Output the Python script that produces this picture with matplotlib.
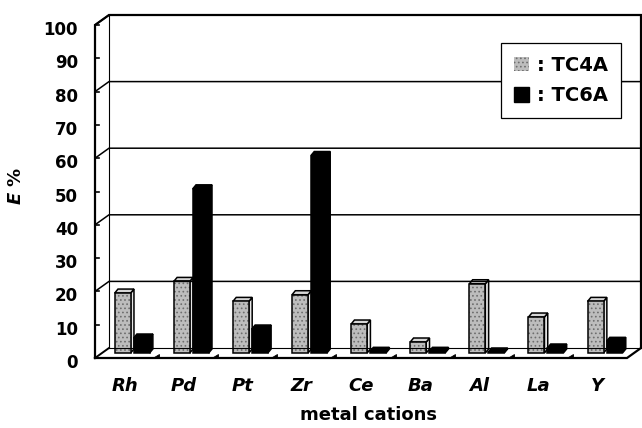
import numpy as np
import matplotlib.pyplot as plt
from matplotlib.patches import Polygon, Rectangle, Patch
from matplotlib.transforms import offset_copy

plt.rcParams['font.family'] = 'DejaVu Sans'
plt.rcParams['mathtext.fontset'] = 'dejavusans'
plt.rcParams['hatch.linewidth'] = 0.7

metals = ['Rh', 'Pd', 'Pt', 'Zr', 'Ce', 'Ba', 'Al', 'La', 'Y']
tc4a = [18, 21.5, 15.5, 17.5, 8.7, 3.3, 20.8, 10.8, 15.5]
tc6a = [4.5, 49.3, 7.2, 59.3, 0.5, 0.5, 0.3, 1.5, 3.5]
series = ['TC4A', 'TC6A']
yticks = list(range(0, 101, 10))
grid_vals = [20, 40, 60, 80, 100]

W, H = 642, 428
fig = plt.figure(figsize=(W / 100, H / 100), dpi=100)
ax = fig.add_axes([95 / W, 1 - 358 / H, 532 / W, 333 / H])
n = len(metals)
ax.set_xlim(0, n)
ax.set_ylim(0, 100)
ax.set_facecolor('none')
for s in ax.spines.values():
    s.set_visible(False)

# pixel -> data units
px_x = n / 532
px_y = 100 / 333
DX, DY = 14 * px_x, 10 * px_y      # wall depth
BX, BY = 7 * px_x, 5 * px_y        # bar row position
dx, dy = 3.3 * px_x, 4 * px_y      # bar depth
bw = 0.27
offs = [0.215, 0.535]
gray, dots = '#bdbdbd', '#6e6e6e'

# walls and floor
ax.add_patch(Polygon([(0, 0), (DX, DY), (DX, 100 + DY), (0, 100)], fc='white', ec='none', clip_on=False))
ax.add_patch(Rectangle((DX, DY), n, 100, fc='white', ec='none', clip_on=False))
ax.add_patch(Polygon([(0, 0), (n, 0), (n + DX, DY), (DX, DY)], fc='white', ec='none', clip_on=False))

for v in grid_vals:
    ax.plot([0, DX, n + DX], [v, v + DY, v + DY], color='k', lw=1.1, clip_on=False)
for v in yticks:
    ax.plot([0, 4 * px_x], [v, v], color='k', lw=1.2, clip_on=False)

ax.plot([DX, DX], [DY, 100 + DY], color='k', lw=0.8, clip_on=False)
ax.plot([DX, n + DX], [DY, DY], color='k', lw=0.8, clip_on=False)
ax.plot([0, DX], [0, DY], color='k', lw=1.4, clip_on=False)
ax.plot([0, 0, DX, n + DX, n + DX, n, 0], [0, 100, 100 + DY, 100 + DY, DY, 0, 0],
        color='k', lw=1.6, clip_on=False, solid_joinstyle='miter')

for i in range(1, n):
    ax.add_patch(Polygon([(i, 0.4), (i + 5 * px_x, 0.4), (i + 5 * px_x, 4 * px_y)],
                         fc='k', ec='k', lw=0.6, clip_on=False))


def bar3d(x0, v, front, side, top, lw, hatch=None):
    x = x0 + BX
    ax.add_patch(Polygon([(x + bw, BY), (x + bw + dx, BY + dy), (x + bw + dx, BY + v + dy), (x + bw, BY + v)],
                         fc=side, ec='k', lw=lw, clip_on=False))
    ax.add_patch(Polygon([(x, BY + v), (x + dx, BY + v + dy), (x + bw + dx, BY + v + dy), (x + bw, BY + v)],
                         fc=top, ec='k', lw=lw, clip_on=False))
    if hatch:
        ax.add_patch(Rectangle((x, BY), bw, v, fc=front, ec=dots, lw=0, hatch=hatch, clip_on=False))
        ax.add_patch(Rectangle((x, BY), bw, v, fc='none', ec='k', lw=lw, clip_on=False))
    else:
        ax.add_patch(Rectangle((x, BY), bw, v, fc=front, ec='k', lw=lw, clip_on=False))


for i in range(n):
    bar3d(i + offs[0], tc4a[i], gray, '#e8e8e8', '#d6d6d6', 1.1, hatch='....')
    bar3d(i + offs[1], tc6a[i], 'black', 'black', 'black', 1.1)

# axis texts
lab_tr = offset_copy(ax.transData, fig=fig, x=-17, y=-5, units='dots')
for v in yticks:
    ax.text(0, v, str(v), transform=lab_tr, ha='right', va='center',
            fontsize=12, fontweight='bold')
ax.set_yticks([])
ax.set_xticks(np.arange(n) + 0.5, metals, fontsize=13, fontweight='bold', fontstyle='italic')
ax.tick_params(axis='x', length=0, pad=14)

ax.set_xlabel('metal cations', fontsize=13, fontweight='bold')
ax.xaxis.set_label_coords((368 - 95) / 532, (358 - 406) / 333)
ax.set_ylabel(r'$\mathbfit{E}$ %', fontsize=13, fontweight='bold')
ax.yaxis.set_label_coords((25 - 95) / 532, (358 - 186) / 333)

handles = [Patch(fc=gray, ec=dots, lw=0, hatch='....'), Patch(fc='black', ec='black')]
leg = ax.legend(handles, [': ' + s for s in series], loc='upper right',
                bbox_to_anchor=(621 / W, 1 - 43 / H), bbox_transform=fig.transFigure,
                borderaxespad=0, prop={'size': 14, 'weight': 'bold'},
                handlelength=0.75, handleheight=0.75, handletextpad=0.45,
                labelspacing=0.6, borderpad=0.65, fancybox=False,
                framealpha=1, edgecolor='black')
leg.get_frame().set_linewidth(0.9)

fig.savefig('out.png', dpi=100)
